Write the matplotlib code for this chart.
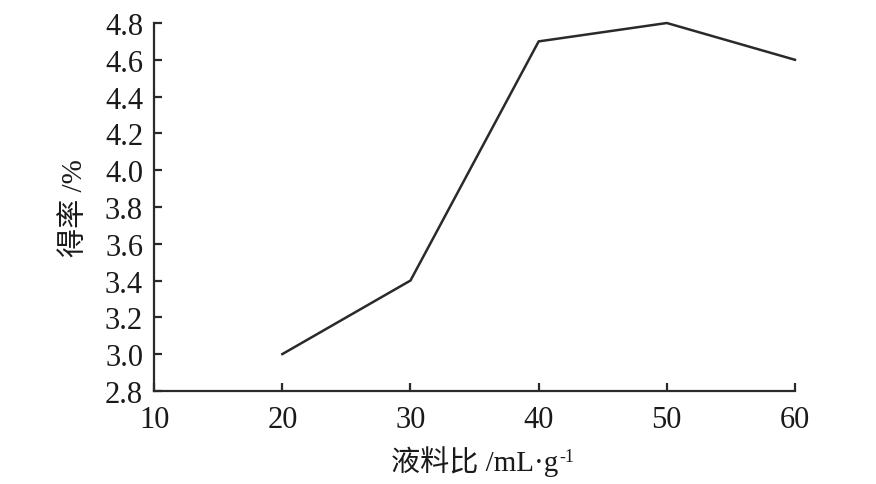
import matplotlib
matplotlib.use("Agg")
import matplotlib.pyplot as plt

ratios = [20, 30, 40, 50, 60]
yields = [3.0, 3.4, 4.7, 4.8, 4.6]
xticks = [10, 20, 30, 40, 50, 60]
yticks = [2.8, 3.0, 3.2, 3.4, 3.6, 3.8, 4.0, 4.2, 4.4, 4.6, 4.8]

plt.rcParams['font.family'] = ['Liberation Serif', 'Noto Sans CJK SC']

fig = plt.figure(figsize=(8.76, 4.85), dpi=100)
ax = fig.add_axes([0.176, 0.192, 0.7315, 0.7585])
ax.plot(ratios, yields, color='#2a2a2a', lw=1.8, clip_on=False)
ax.set_xlim(10, 60)
ax.set_ylim(2.8, 4.8)
ax.set_xticks(xticks)
ax.set_yticks(yticks)
ax.set_yticklabels([f"{v:.1f}" for v in yticks])
for s in ['top', 'right']:
    ax.spines[s].set_visible(False)
for s in ['left', 'bottom']:
    ax.spines[s].set_linewidth(1.6)
    ax.spines[s].set_color('#2a2a2a')
ax.tick_params(direction='in', length=6, width=1.6, color='#2a2a2a',
               labelsize=22, labelcolor='#1a1a1a')
ax.tick_params(axis='y', pad=8)
ax.tick_params(axis='x', pad=10)
ax.set_xlabel('液料比 /mL·g', fontsize=21, color='#1a1a1a', labelpad=8)
ax.annotate('-1', xy=(1, 1), xycoords=ax.xaxis.label, xytext=(1, -2),
            textcoords='offset points', fontsize=13, color='#1a1a1a',
            ha='left', va='top')
ax.set_ylabel('得率 /%', fontsize=21, color='#1a1a1a', labelpad=12)
fig.savefig('out.png', dpi=100, facecolor='white')
